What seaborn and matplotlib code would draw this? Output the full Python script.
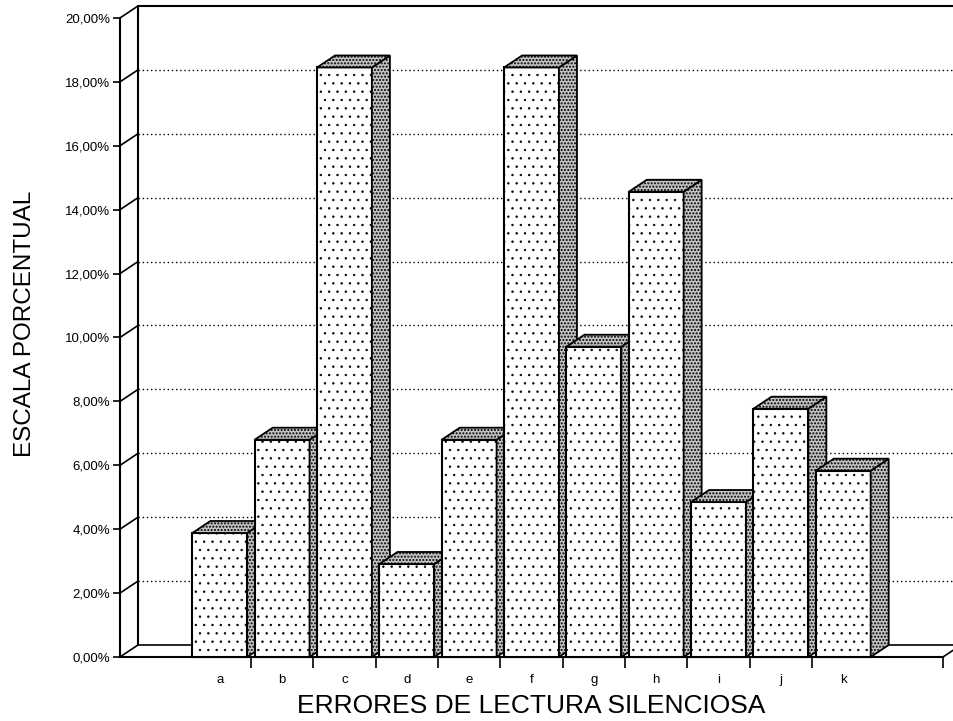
import matplotlib
matplotlib.use('Agg')
import pandas as pd
import matplotlib.pyplot as plt
import seaborn as sns
from matplotlib.patches import Polygon

categorias = ['a', 'b', 'c', 'd', 'e', 'f', 'g', 'h', 'i', 'j', 'k']
porcentajes = [3.88, 6.80, 18.45, 2.91, 6.80, 18.45, 9.71, 14.56, 4.85, 7.77, 5.83]
marcas_y = [0, 2, 4, 6, 8, 10, 12, 14, 16, 18, 20]

PROF_PX = (18, 12)  # profundidad del efecto 3D en pixeles


def main():
    sns.set_style('white')
    plt.rcParams['font.family'] = ['Liberation Sans', 'DejaVu Sans']
    plt.rcParams.update({'text.color': 'black', 'axes.labelcolor': 'black',
                         'xtick.color': 'black', 'ytick.color': 'black'})
    plt.rcParams['hatch.linewidth'] = 0.5  # puntos finos en la cara frontal

    fig = plt.figure(figsize=(9.54, 7.21), dpi=100)
    ax = fig.add_axes([0.1258, 0.0888, 0.8627, 0.8863])

    data = pd.DataFrame({'cat': categorias, 'pct': porcentajes})
    sns.barplot(data=data, x='cat', y='pct', color='white', saturation=1,
                width=0.88, edgecolor='black', linewidth=1.5, hatch='..', ax=ax)

    x0, x1 = -1.6, 11.6
    ax.set_xlim(x0, x1)
    ax.set_ylim(marcas_y[0], marcas_y[-1])

    # pasar la profundidad de pixeles a unidades de datos
    o = ax.transData.transform((0, 0))
    u = ax.transData.transform((1, 1))
    dx = PROF_PX[0] / (u[0] - o[0])
    dy = PROF_PX[1] / (u[1] - o[1])

    # caras laterales y superiores de cada barra
    plt.rcParams['hatch.linewidth'] = 1.0
    for i, p in enumerate(ax.patches):
        x, w, h = p.get_x(), p.get_width(), p.get_height()
        z = 10 + 3 * i
        p.set_zorder(z)
        p.set_clip_on(False)
        lado = Polygon([(x + w, 0), (x + w, h), (x + w + dx, h + dy), (x + w + dx, dy)],
                       closed=True, facecolor='#c4c4c4', edgecolor='black', lw=1.3,
                       hatch='.....', zorder=z + 1, clip_on=False)
        tapa = Polygon([(x, h), (x + w, h), (x + w + dx, h + dy), (x + dx, h + dy)],
                       closed=True, facecolor='#c4c4c4', edgecolor='black', lw=1.3,
                       hatch='.....', zorder=z + 2, clip_on=False)
        ax.add_patch(lado)
        ax.add_patch(tapa)

    # pared del fondo con la reticula punteada
    for v in marcas_y[1:-1]:
        ax.plot([x0 + dx, x1 + dx], [v + dy, v + dy], color='black', lw=1,
                ls=(0, (1, 2)), zorder=2, clip_on=False)
    ax.plot([x0 + dx, x1 + dx], [marcas_y[-1] + dy] * 2, color='black', lw=1.5,
            zorder=2, clip_on=False)
    ax.plot([x0 + dx, x1 + dx], [dy, dy], color='black', lw=1.2, zorder=2, clip_on=False)
    ax.plot([x0 + dx, x0 + dx], [dy, marcas_y[-1] + dy], color='black', lw=1.5,
            zorder=2, clip_on=False)
    for v in marcas_y:
        ax.plot([x0, x0 + dx], [v, v + dy], color='black', lw=1.2, zorder=2, clip_on=False)
    ax.plot([x1, x1 + dx], [0, dy], color='black', lw=1.2, zorder=2, clip_on=False)

    # ejes
    ax.spines[['top', 'right']].set_visible(False)
    for s in ['left', 'bottom']:
        ax.spines[s].set_color('black')
        ax.spines[s].set_linewidth(1.5)

    ax.set_yticks(marcas_y)
    ax.set_yticklabels([f'{v:.2f}%'.replace('.', ',') for v in marcas_y])
    ax.tick_params(axis='y', direction='out', length=5, width=1.2, labelsize=9.5,
                   pad=2, left=True, color='black')

    ax.set_xticks(range(len(categorias)))
    ax.set_xticklabels(categorias)
    ax.set_xticks([i + 0.5 for i in range(len(categorias) - 1)] + [x1], minor=True)
    ax.tick_params(axis='x', which='major', length=0, pad=12, labelsize=9.5)
    ax.tick_params(axis='x', which='minor', direction='out', length=8, width=1.2,
                   bottom=True, color='black')

    ax.set_xlabel('ERRORES DE LECTURA SILENCIOSA', fontsize=19, labelpad=6)
    ax.set_ylabel('ESCALA PORCENTUAL', fontsize=17.5)
    ax.yaxis.set_label_coords(-0.102, 0.522)

    fig.savefig('out.png', dpi=100)


if __name__ == '__main__':
    main()
